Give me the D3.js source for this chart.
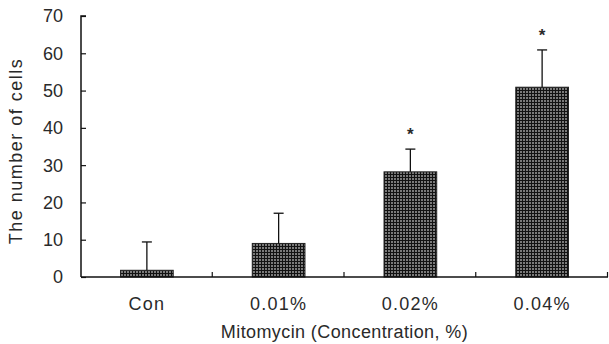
<!DOCTYPE html>
<html lang="en">
<head>
  <meta charset="UTF-8">
  <title>Mitomycin cell count</title>
  <style>
    body { margin: 0; background: #fff; }
    text { font-family: "Liberation Sans", Arial, sans-serif; fill: #2a2a2a; }
  </style>
</head>
<body>
  <div id="chart"></div>
  <script src="https://d3js.org/d3.v7.min.js"></script>
  <script>
    // data
    const categories = ["Con", "0.01%", "0.02%", "0.04%"];
    const means = [1.8, 9.0, 28.2, 50.9];
    const errors = [7.6, 8.1, 6.1, 10.0];
    const significant = [false, false, true, true];
    const yTicks = [0, 10, 20, 30, 40, 50, 60, 70];

    const width = 609, height = 344;
    const margin = { left: 81, right: 1, top: 16, bottom: 67 };

    const svg = d3.select("#chart").append("svg")
      .attr("width", width)
      .attr("height", height);

    // stippled bar texture
    const pat = svg.append("defs").append("pattern")
      .attr("id", "stipple")
      .attr("patternUnits", "userSpaceOnUse")
      .attr("width", 3).attr("height", 3);
    pat.append("rect").attr("width", 3).attr("height", 3).attr("fill", "#7a7a7a");
    pat.append("rect").attr("width", 3).attr("height", 1).attr("fill", "#121212");
    pat.append("rect").attr("width", 1).attr("height", 3).attr("fill", "#121212");

    const x = d3.scaleBand()
      .domain(categories)
      .range([margin.left, width - margin.right])
      .padding(0);

    const y = d3.scaleLinear()
      .domain([0, 70])
      .range([height - margin.bottom, margin.top]);

    const barW = x.bandwidth() * 0.4;
    const cx = d => x(d) + x.bandwidth() / 2;

    // bars
    svg.selectAll(".bar")
      .data(categories)
      .enter().append("rect")
      .attr("class", "bar")
      .attr("x", d => cx(d) - barW / 2)
      .attr("y", (d, i) => y(means[i]))
      .attr("width", barW)
      .attr("height", (d, i) => y(0) - y(means[i]))
      .attr("fill", "url(#stipple)")
      .attr("stroke", "#222")
      .attr("stroke-width", 1);

    // error bars (upper only)
    const eb = svg.selectAll(".err")
      .data(categories)
      .enter().append("g")
      .attr("class", "err")
      .attr("stroke", "#111")
      .attr("stroke-width", 1.3);
    eb.append("line")
      .attr("x1", d => cx(d)).attr("x2", d => cx(d))
      .attr("y1", (d, i) => y(means[i]))
      .attr("y2", (d, i) => y(means[i] + errors[i]));
    eb.append("line")
      .attr("x1", d => cx(d) - 5).attr("x2", d => cx(d) + 5)
      .attr("y1", (d, i) => y(means[i] + errors[i]))
      .attr("y2", (d, i) => y(means[i] + errors[i]));

    // significance marks
    svg.selectAll(".star")
      .data(categories.filter((d, i) => significant[i]))
      .enter().append("text")
      .attr("class", "star")
      .attr("x", d => cx(d))
      .attr("y", d => {
        const i = categories.indexOf(d);
        return y(means[i] + errors[i]) - 9;
      })
      .attr("text-anchor", "middle")
      .style("font-size", "17px")
      .style("font-weight", "bold")
      .text("*");

    // y axis
    const yAxis = svg.append("g")
      .attr("transform", `translate(${margin.left},0)`)
      .call(d3.axisRight(y).tickValues(yTicks).tickSize(5).tickFormat(""));
    yAxis.select(".domain").attr("d", `M5,${y(70)}H0V${y(0)}`).attr("stroke", "#111").attr("stroke-width", 1.5);
    yAxis.selectAll(".tick line").attr("stroke", "#111").attr("stroke-width", 1.2);

    svg.selectAll(".ylab")
      .data(yTicks)
      .enter().append("text")
      .attr("class", "ylab")
      .attr("x", 63)
      .attr("y", d => y(d))
      .attr("dy", "0.36em")
      .attr("text-anchor", "end")
      .style("font-size", "18px")
      .text(d => d);

    // x axis with ticks between groups
    const bounds = categories.map(d => x(d)).concat([width - margin.right]).slice(1);
    svg.append("line")
      .attr("x1", margin.left).attr("x2", width - margin.right)
      .attr("y1", y(0)).attr("y2", y(0))
      .attr("stroke", "#111").attr("stroke-width", 1.5);
    svg.selectAll(".xtick")
      .data(bounds)
      .enter().append("line")
      .attr("x1", d => d - 0.5).attr("x2", d => d - 0.5)
      .attr("y1", y(0)).attr("y2", y(0) - 5)
      .attr("stroke", "#111").attr("stroke-width", 1.2);

    svg.selectAll(".xlab")
      .data(categories)
      .enter().append("text")
      .attr("class", "xlab")
      .attr("x", d => cx(d))
      .attr("y", 310)
      .attr("text-anchor", "middle")
      .style("font-size", "18px")
      .style("letter-spacing", "1.2px")
      .text(d => d);

    // axis titles
    svg.append("text")
      .attr("x", (margin.left + width - margin.right) / 2)
      .attr("y", 338)
      .attr("text-anchor", "middle")
      .style("font-size", "18px")
      .style("letter-spacing", "0.4px")
      .text("Mitomycin (Concentration, %)");

    svg.append("text")
      .attr("transform", `translate(22,151) rotate(-90)`)
      .attr("text-anchor", "middle")
      .style("font-size", "18px")
      .style("letter-spacing", "1.5px")
      .text("The number of cells");
  </script>
</body>
</html>
